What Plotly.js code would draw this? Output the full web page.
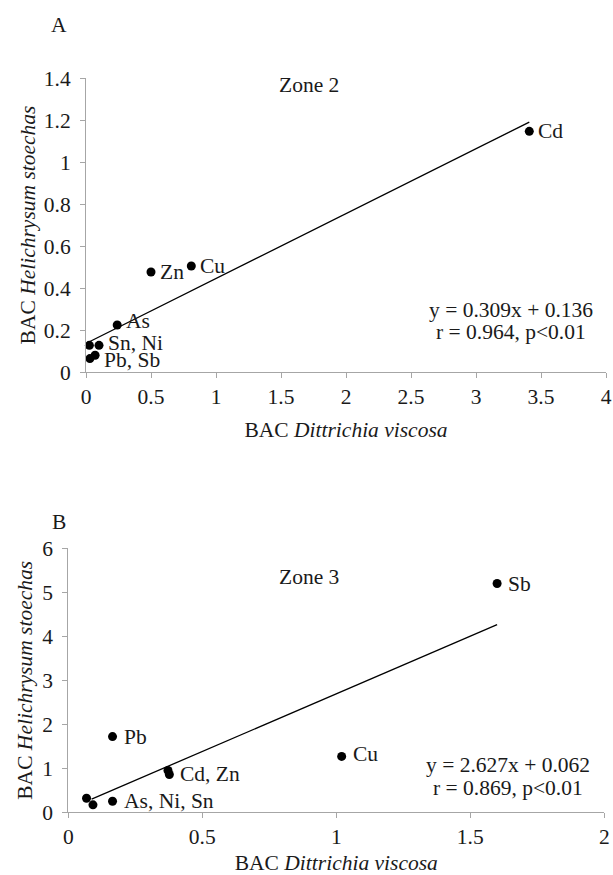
<!DOCTYPE html>
<html>
<head>
<meta charset="utf-8">
<script src="https://cdn.plot.ly/plotly-3.0.1.min.js"></script>
<style>html,body{margin:0;padding:0;background:#fff;}#chart{width:613px;height:875px;}</style>
</head>
<body>
<div id="chart"></div>
<script>
// ---- Data: Zone 2 (panel A) ----
const zone2Elements = ["Cd", "Cu", "Zn", "As", "Sn", "Ni", "Pb", "Sb"];
const zone2X = [3.41, 0.81, 0.50, 0.24, 0.026, 0.10, 0.03, 0.07];
const zone2Y = [1.146, 0.505, 0.476, 0.224, 0.127, 0.127, 0.064, 0.08];
const zone2Labels = ["Cd", "Cu", "Zn", "As", "", "Sn, Ni", "", "Pb, Sb"];
const zone2LineX = [0.026, 3.41];
const zone2LineY = [0.144, 1.190];
const zone2Equation = ["y = 0.309x + 0.136", "r = 0.964, p<0.01"];
const zone2XTicks = [0, 0.5, 1, 1.5, 2, 2.5, 3, 3.5, 4];
const zone2YTicks = [0, 0.2, 0.4, 0.6, 0.8, 1, 1.2, 1.4];

// ---- Data: Zone 3 (panel B) ----
const zone3Elements = ["Sb", "Cu", "Pb", "Cd", "Zn", "As", "Ni", "Sn"];
const zone3X = [1.60, 1.02, 0.165, 0.372, 0.377, 0.165, 0.068, 0.092];
const zone3Y = [5.20, 1.27, 1.72, 0.95, 0.86, 0.25, 0.32, 0.17];
const zone3Labels = ["Sb", "Cu", "Pb", "", "Cd, Zn", "As, Ni, Sn", "", ""];
const zone3LineX = [0.087, 1.60];
const zone3LineY = [0.30, 4.265];
const zone3Equation = ["y = 2.627x + 0.062", "r = 0.869, p<0.01"];
const zone3XTicks = [0, 0.5, 1, 1.5, 2];
const zone3YTicks = [0, 1, 2, 3, 4, 5, 6];

const panelLetters = ["A", "B"];
const zoneTitles = ["Zone 2", "Zone 3"];
const xTitle = "BAC <i>Dittrichia viscosa</i>";
const yTitle = "BAC <i>Helichrysum stoechas</i>";

// ---- Styling ----
const W = 613, H = 875;
const FONT = "'Liberation Serif', 'Times New Roman', serif";
const FS = 21.5;
const TXT = "#1a1a1a";
const AX = "#a6a6a6";
// small vertical nudges (px) for crowded point labels
const labelNudge = { "As": 4, "Sn, Ni": 2, "Pb, Sb": -5, "Cu@z3": 2 };

function px(x) { return x / W; }
function py(y) { return 1 - y / H; }

const traces = [
  { x: zone2LineX, y: zone2LineY, xaxis: "x", yaxis: "y", mode: "lines",
    line: { color: "#000", width: 1.3 }, hoverinfo: "skip", cliponaxis: false },
  { x: zone2X, y: zone2Y, text: zone2Elements, xaxis: "x", yaxis: "y", mode: "markers",
    marker: { color: "#000", size: 9 }, cliponaxis: false },
  { x: zone3LineX, y: zone3LineY, xaxis: "x2", yaxis: "y2", mode: "lines",
    line: { color: "#000", width: 1.3 }, hoverinfo: "skip", cliponaxis: false },
  { x: zone3X, y: zone3Y, text: zone3Elements, xaxis: "x2", yaxis: "y2", mode: "markers",
    marker: { color: "#000", size: 9 }, cliponaxis: false }
];

function axisCommon(extra) {
  return Object.assign({
    showline: true, linecolor: AX, linewidth: 1,
    ticks: "outside", ticklen: 5, tickcolor: AX, tickwidth: 1,
    showgrid: false, zeroline: false, fixedrange: true,
    tickfont: { family: FONT, size: FS, color: TXT }
  }, extra);
}

const annotations = [];
function addLabels(xs, ys, labels, xref, yref, shift, tag) {
  labels.forEach((t, i) => {
    if (!t) return;
    const nudge = (xref === "x" ? labelNudge[t] : labelNudge[t + "@" + tag]) || 0;
    annotations.push({ x: xs[i], y: ys[i], xref: xref, yref: yref, text: t,
      showarrow: false, xanchor: "left", yanchor: "middle", xshift: shift, yshift: nudge,
      borderpad: 0,
      font: { family: FONT, size: FS, color: TXT } });
  });
}
addLabels(zone2X, zone2Y, zone2Labels, "x", "y", 8, "z2");
addLabels(zone3X, zone3Y, zone3Labels, "x2", "y2", 10, "z3");

function addText(text, x, y) {
  annotations.push({ x: px(x), y: py(y), xref: "paper", yref: "paper", text: text,
    showarrow: false, xanchor: "center", yanchor: "middle",
    font: { family: FONT, size: FS, color: TXT } });
}
addText(panelLetters[0], 59, 25);
addText(panelLetters[1], 59, 522);
addText(zoneTitles[0], 309, 85);
addText(zoneTitles[1], 309, 577);
addText(zone2Equation[0], 511, 310);
addText(zone2Equation[1], 511, 332);
addText(zone3Equation[0], 508, 765);
addText(zone3Equation[1], 508, 788);

const titleFont = { family: FONT, size: FS, color: TXT };
const layout = {
  width: W, height: H,
  margin: { l: 0, r: 0, t: 0, b: 0 },
  paper_bgcolor: "#fff", plot_bgcolor: "#fff",
  showlegend: false,
  font: { family: FONT, size: FS, color: TXT },
  xaxis: axisCommon({ domain: [px(86), px(606)], range: [0, 4], anchor: "y",
    tickvals: zone2XTicks, ticktext: zone2XTicks.map(String),
    title: { text: xTitle, font: titleFont, standoff: 14 } }),
  yaxis: axisCommon({ domain: [py(372), py(78)], range: [0, 1.4], anchor: "x",
    tickvals: zone2YTicks, ticktext: zone2YTicks.map(String), ticklabelstandoff: 5,
    title: { text: yTitle, font: titleFont, standoff: 2 } }),
  xaxis2: axisCommon({ domain: [px(68.3), px(604.3)], range: [0, 2], anchor: "y2",
    tickvals: zone3XTicks, ticktext: zone3XTicks.map(String),
    title: { text: xTitle, font: titleFont, standoff: 13 } }),
  yaxis2: axisCommon({ domain: [py(812.3), py(548.3)], range: [0, 6], anchor: "x2",
    tickvals: zone3YTicks, ticktext: zone3YTicks.map(String), ticklabelstandoff: 5,
    title: { text: yTitle, font: titleFont, standoff: 3 } }),
  annotations: annotations
};

Plotly.newPlot("chart", traces, layout, { staticPlot: true, displayModeBar: false });
</script>
</body>
</html>
